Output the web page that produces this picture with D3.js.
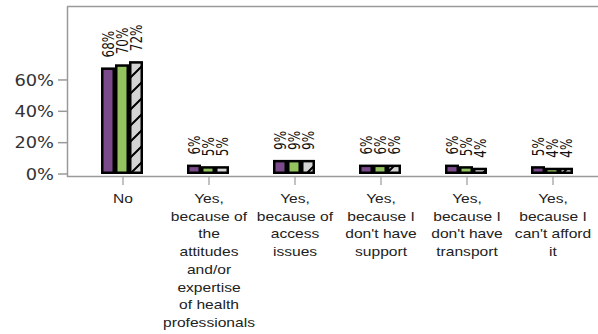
<!DOCTYPE html>
<html>
<head>
<meta charset="utf-8">
<script src="https://cdn.jsdelivr.net/npm/d3@7"></script>
<style>
  body { margin: 0; background: #fff; }
</style>
</head>
<body>
<div id="chart"></div>
<script>
// data
var categories = ["No", "attitudes", "access", "support", "transport", "afford"];
var categoryLines = [
    ["No"],
    ["Yes,", "because of", "the", "attitudes", "and/or", "expertise", "of health", "professionals"],
    ["Yes,", "because of", "access", "issues"],
    ["Yes,", "because I", "don't have", "support"],
    ["Yes,", "because I", "don't have", "transport"],
    ["Yes,", "because I", "can't afford", "it"]
];
var seriesNames = ["s1", "s2", "s3"];
var series1 = [68, 6, 9, 6, 6, 5];
var series2 = [70, 5, 9, 6, 5, 4];
var series3 = [72, 5, 9, 6, 4, 4];
var yTicks = [0, 20, 40, 60];

var width = 598, height = 334;
var stretch = 1.2;   // text in the picture is drawn wide

var svg = d3.select("#chart").append("svg")
    .attr("width", width)
    .attr("height", height);

// hatch for the third series
var defs = svg.append("defs");
var pat = defs.append("pattern")
    .attr("id", "hatch")
    .attr("patternUnits", "userSpaceOnUse")
    .attr("width", 16)
    .attr("height", 16);
pat.append("rect").attr("width", 16).attr("height", 16).attr("fill", "#d4d4d4");
pat.append("path")
    .attr("d", "M-4,4 L4,-4 M0,16 L16,0 M12,20 L20,12")
    .attr("stroke", "#000")
    .attr("stroke-width", 2);

var x = d3.scaleBand().domain(categories).range([80, 596]);
var xs = d3.scaleBand().domain(seriesNames).range([-22, 20]);
var y = d3.scaleLinear().domain([0, 107]).range([174, 6.3]);

var colors = ["#7b4a8b", "#93c45f", "url(#hatch)"];
var values = [series1, series2, series3];

// frame
svg.append("line").attr("x1", 67.5).attr("x2", 67.5).attr("y1", 6.5).attr("y2", 177)
    .attr("stroke", "#9a9a9a").attr("stroke-width", 1.5);
svg.append("line").attr("x1", 67).attr("x2", width).attr("y1", 6.5).attr("y2", 6.5)
    .attr("stroke", "#9a9a9a").attr("stroke-width", 1.5);
svg.append("line").attr("x1", 67).attr("x2", width).attr("y1", 176.5).attr("y2", 176.5)
    .attr("stroke", "#9a9a9a").attr("stroke-width", 1.5);

// y axis ticks
var yg = svg.append("g");
yg.selectAll("line").data(yTicks).enter().append("line")
    .attr("x1", 58).attr("x2", 67)
    .attr("y1", function(d) { return y(d); })
    .attr("y2", function(d) { return y(d); })
    .attr("stroke", "#9a9a9a").attr("stroke-width", 1.5);
yg.selectAll("text").data(yTicks).enter().append("text")
    .attr("transform", function(d) { return "translate(54," + y(d) + ") scale(1.15,1)"; })
    .attr("dy", "0.36em")
    .attr("text-anchor", "end")
    .style("font-family", "DejaVu Sans")
    .style("font-size", "15.5px")
    .style("fill", "#333")
    .text(function(d) { return d + "%"; });

// x ticks
svg.append("g").selectAll("line").data(categories).enter().append("line")
    .attr("x1", function(d) { return x(d) + x.bandwidth() / 2; })
    .attr("x2", function(d) { return x(d) + x.bandwidth() / 2; })
    .attr("y1", 177).attr("y2", 185)
    .attr("stroke", "#9a9a9a").attr("stroke-width", 1.2);

// bars
var sw = 2.5;
values.forEach(function(vals, si) {
    var g = svg.append("g");
    g.selectAll("rect").data(vals).enter().append("rect")
        .attr("x", function(d, i) { return x(categories[i]) + x.bandwidth() / 2 + xs(seriesNames[si]) + sw / 2; })
        .attr("width", xs.bandwidth() - sw)
        .attr("y", function(d) { return y(d) + sw / 2; })
        .attr("height", function(d) { return y(0) - y(d) - sw; })
        .attr("fill", colors[si])
        .attr("stroke", "#000")
        .attr("stroke-width", sw);

    g.selectAll("text").data(vals).enter().append("text")
        .attr("transform", function(d, i) {
            var cx = x(categories[i]) + x.bandwidth() / 2 + xs(seriesNames[si]) + xs.bandwidth() / 2;
            return "translate(" + cx + "," + (y(d) - 10) + ") scale(1.35,1) rotate(-90)";
        })
        .attr("dy", "0.36em")
        .attr("text-anchor", "start")
        .style("font-family", "DejaVu Sans")
        .style("font-size", "12px")
        .style("fill", "#111")
        .text(function(d) { return d + "%"; });
});

// category labels
var lg = svg.append("g");
categories.forEach(function(c, i) {
    var t = lg.append("text")
        .attr("transform", "translate(" + (x(c) + x.bandwidth() / 2) + ",203) scale(" + stretch + ",1)")
        .attr("text-anchor", "middle")
        .style("font-family", "Liberation Sans")
        .style("font-size", "13px")
        .style("fill", "#222");
    categoryLines[i].forEach(function(line, j) {
        t.append("tspan")
            .attr("x", 0)
            .attr("y", j * 17.75)
            .text(line);
    });
});
</script>
</body>
</html>
